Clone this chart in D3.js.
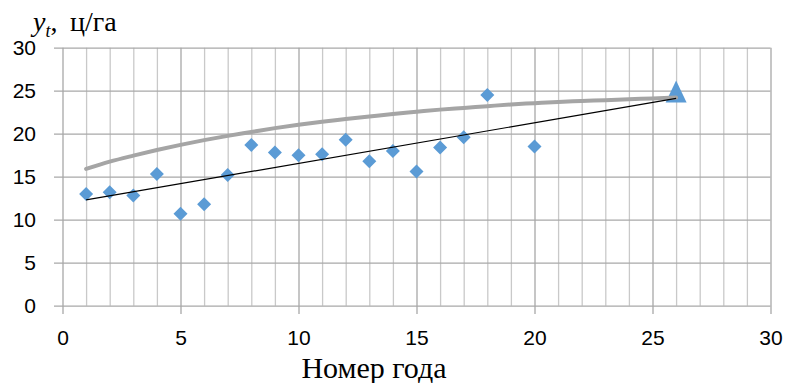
<!DOCTYPE html>
<html>
<head>
<meta charset="utf-8">
<script src="https://cdn.jsdelivr.net/npm/d3@7"></script>
<style>
  html, body { margin: 0; padding: 0; background: #fff; }
  svg { display: block; }
  .tick text { font-family: "Liberation Sans", Arial, sans-serif; font-size: 21px; fill: #000; }
</style>
</head>
<body>
<svg id="chart" width="786" height="383"></svg>
<script>
// Observed yields by year number
const years = [1, 2, 3, 4, 5, 6, 7, 8, 9, 10, 11, 12, 13, 14, 15, 16, 17, 18, 20];
const yields = [13.0, 13.2, 12.8, 15.3, 10.7, 11.8, 15.2, 18.7, 17.8, 17.5, 17.6, 19.3, 16.8, 18.0, 15.6, 18.4, 19.6, 24.5, 18.5];

// Forecast point
const forecastYear = [26];
const forecastValue = [24.9];

// Linear trend, endpoints
const trendYears = [1, 26];
const trendValues = [12.3, 24.1];

// Saturating growth curve
const curveYears = [1, 2, 3, 4, 5, 6, 7, 8, 9, 10, 11, 12, 13, 14, 15, 16, 17, 18, 19, 20, 21, 22, 23, 24, 25, 26];
const curveValues = [15.9, 16.75, 17.45, 18.1, 18.7, 19.25, 19.75, 20.2, 20.65, 21.05, 21.4, 21.7, 22.0, 22.3, 22.55, 22.8, 23.0, 23.2, 23.4, 23.55, 23.7, 23.8, 23.9, 24.0, 24.1, 24.2];

// Axis ticks
const xMajorTicks = [0, 5, 10, 15, 20, 25, 30];
const xMinorTicks = d3.range(1, 30).filter(v => v % 5 !== 0);
const yTicks = [0, 5, 10, 15, 20, 25, 30];

const svg = d3.select("#chart");
const x = d3.scaleLinear().domain([0, 30]).range([62.5, 770.5]);
const y = d3.scaleLinear().domain([0, 30]).range([305.7, 47.7]);

const plotTop = y(30), plotBottom = y(0);

// Minor vertical gridlines
const minor = svg.append("g")
  .attr("transform", `translate(0,${plotBottom})`)
  .call(d3.axisBottom(x).tickValues(xMinorTicks).tickSize(-(plotBottom - plotTop)).tickFormat(""));
minor.select(".domain").remove();
minor.selectAll(".tick line").attr("stroke", "#c9c9c9").attr("stroke-width", 1.3);

// Horizontal gridlines with left tick marks and labels
const yAxisX = 54;
const gy = svg.append("g")
  .attr("transform", `translate(${yAxisX},0)`)
  .call(d3.axisLeft(y).tickValues(yTicks).tickSize(-(x(30) - yAxisX)).tickPadding(18));
gy.select(".domain").remove();
gy.selectAll(".tick line").attr("stroke", "#a8a8a8").attr("stroke-width", 1.3);

// Major vertical gridlines with bottom tick marks and labels
const xAxisY = 314;
const gx = svg.append("g")
  .attr("transform", `translate(0,${xAxisY})`)
  .call(d3.axisBottom(x).tickValues(xMajorTicks).tickSize(-(xAxisY - plotTop)).tickPadding(16));
gx.select(".domain").remove();
gx.selectAll(".tick line").attr("stroke", "#a8a8a8").attr("stroke-width", 1.3);

// Observed points as diamonds
const diamond = d3.symbol().type(d3.symbolSquare).size(98);
svg.append("g").selectAll("path")
  .data(years.map((v, i) => [v, yields[i]]))
  .join("path")
  .attr("d", diamond)
  .attr("transform", d => `translate(${x(d[0])},${y(d[1])}) rotate(45)`)
  .attr("fill", "#5b9bd5");

// Forecast triangle
svg.append("g").selectAll("path")
  .data(forecastYear.map((v, i) => [v, forecastValue[i]]))
  .join("path")
  .attr("d", d => {
    const cx = x(d[0]), cy = y(d[1]);
    return `M${cx},${cy - 11}L${cx + 10.5},${cy + 11}L${cx - 10.5},${cy + 11}Z`;
  })
  .attr("fill", "#5b9bd5");

// Growth curve
svg.append("path")
  .datum(curveYears.map((v, i) => [v, curveValues[i]]))
  .attr("d", d3.line().x(d => x(d[0])).y(d => y(d[1])).curve(d3.curveMonotoneX))
  .attr("fill", "none")
  .attr("stroke", "#a5a5a5")
  .attr("stroke-width", 4)
  .attr("stroke-linecap", "round");

// Linear trend
svg.append("path")
  .datum(trendYears.map((v, i) => [v, trendValues[i]]))
  .attr("d", d3.line().x(d => x(d[0])).y(d => y(d[1])))
  .attr("fill", "none")
  .attr("stroke", "#000")
  .attr("stroke-width", 1.2);

// Axis titles
const serif = "'Liberation Serif', 'Times New Roman', serif";
const yTitle = svg.append("text")
  .attr("x", 33).attr("y", 31)
  .attr("font-family", serif)
  .attr("font-size", 28)
  .attr("fill", "#000");
yTitle.append("tspan").attr("font-style", "italic").text("y");
yTitle.append("tspan").attr("font-style", "italic").attr("font-size", 18).attr("dy", 6).text("t");
yTitle.append("tspan").attr("dy", -6).text(",");
yTitle.append("tspan").attr("x", 70).text("ц/га");

svg.append("text")
  .attr("x", 374).attr("y", 377.5)
  .attr("text-anchor", "middle")
  .attr("font-family", serif)
  .attr("font-size", 30)
  .attr("fill", "#000")
  .text("Номер года");
</script>
</body>
</html>
